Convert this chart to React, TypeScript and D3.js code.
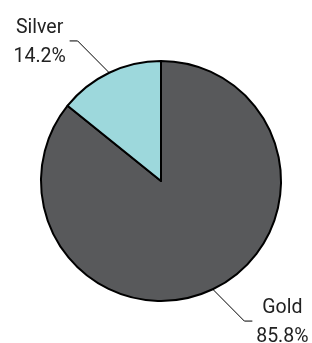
import React from "react";
import * as d3 from "d3";

const categories = ["Gold", "Silver"];
const values = [85.8, 14.2];
const labels = ["85.8%", "14.2%"];
const colors = ["#58595b", "#9dd8dc"];

const W = 312;
const H = 343;

export default function App() {
  const cx = 161;
  const cy = 181;
  const r = 120;
  const data = categories.map((c, i) => ({ c, v: values[i], label: labels[i], color: colors[i] }));
  const pie = d3
    .pie<any>()
    .value((d) => d.v)
    .sort(null)
    .startAngle(0)
    .endAngle(2 * Math.PI);
  const arcs = pie(data);
  const arc = d3.arc<any>().innerRadius(0).outerRadius(r);
  const polar = (a: number, rad: number) => [Math.sin(a) * rad, -Math.cos(a) * rad];

  return (
    <svg width={W} height={H} style={{ position: "fixed", left: 0, top: 0 }}>
      <g transform={`translate(${cx},${cy})`}>
        {arcs.map((a, i) => (
          <path key={i} d={arc(a) as string} fill={a.data.color} stroke="#000" strokeWidth={2} strokeLinejoin="round" />
        ))}
        {arcs.map((a, i) => {
          let mid = (a.startAngle + a.endAngle) / 2;
          if (mid > Math.PI) mid -= 2 * Math.PI;
          const side = Math.sin(mid) >= 0 ? 1 : -1;
          const p0 = polar(mid, r);
          const offA = mid + Math.sign(Math.sin(mid) * Math.cos(mid)) * (5.2 * Math.PI) / 180;
          const p1 = polar(offA, 163);
          const p2 = [p1[0] + side * 8, p1[1]];
          const tx = p2[0] + side * 30;
          return (
            <g key={"l" + i}>
              <polyline
                points={[p0, p1, p2].map((p) => p.join(",")).join(" ")}
                fill="none"
                stroke="#000"
                strokeWidth={1}
              />
              <text
                x={tx}
                y={p2[1]}
                textAnchor="middle"
                fontFamily="Roboto"
                fontSize={19.5}
                fill="#222"
              >
                <tspan x={tx} dy={-8}>{a.data.c}</tspan>
                <tspan x={tx} dy={29}>{a.data.label}</tspan>
              </text>
            </g>
          );
        })}
      </g>
    </svg>
  );
}
